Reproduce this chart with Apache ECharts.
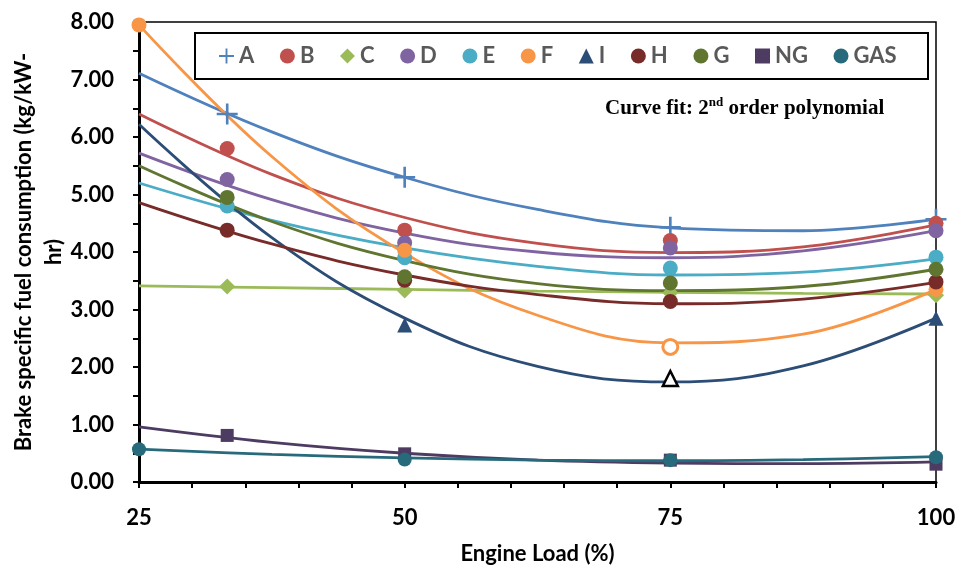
<!DOCTYPE html>
<html>
<head>
<meta charset="utf-8">
<title>Brake specific fuel consumption</title>
<script src="https://cdn.jsdelivr.net/npm/echarts@6/dist/echarts.min.js"></script>
<style>
  html, body { margin: 0; padding: 0; background: #fff; }
  #chart { width: 961px; height: 571px; }
</style>
</head>
<body>
<div id="chart"></div>
<script>
// engine loads where measurements were taken
const markX = [25, 33.3, 50, 75, 100];
// measured points (null = no marker)
const ptsA = [null, 6.40, 5.30, 4.43, 4.57];
const ptsB = [null, 5.80, 4.38, 4.20, 4.50];
const ptsC = [null, 3.40, 3.33, 3.29, 3.25];
const ptsD = [null, 5.26, 4.16, 4.07, 4.37];
const ptsE = [null, 4.80, 3.90, 3.72, 3.91];
const ptsF = [7.95, null, 4.03, 2.35, 3.35];
const ptsI = [null, null, 2.73, 1.80, 2.85];
const ptsH = [null, 4.38, 3.51, 3.14, 3.48];
const ptsG = [null, 4.95, 3.57, 3.46, 3.70];
const ptsNG = [null, 0.81, 0.49, 0.38, 0.31];
const ptsGAS = [0.57, null, 0.39, 0.38, 0.43];

// fitted curves
const fitX = [25, 37.5, 50, 62.5, 75, 87.5, 100];
const fitA = [7.11, 6.09, 5.30, 4.74, 4.42, 4.37, 4.57];
const fitB = [6.40, 5.35, 4.60, 4.15, 3.99, 4.09, 4.47];
const fitC = [3.41, 3.38, 3.35, 3.32, 3.30, 3.28, 3.27];
const fitD = [5.72, 4.91, 4.33, 4.00, 3.90, 4.02, 4.37];
const fitE = [5.20, 4.55, 4.07, 3.75, 3.60, 3.65, 3.88];
const fitF = [7.95, 5.66, 3.98, 2.90, 2.42, 2.57, 3.35];
const fitI = [6.22, 4.25, 2.85, 2.01, 1.74, 2.02, 2.85];
const fitH = [4.86, 4.14, 3.60, 3.26, 3.10, 3.18, 3.47];
const fitG = [5.50, 4.53, 3.85, 3.45, 3.33, 3.40, 3.70];
const fitNG = [0.96, 0.69, 0.50, 0.38, 0.33, 0.32, 0.35];
const fitGAS = [0.57, 0.48, 0.42, 0.38, 0.37, 0.39, 0.44];

const yTicks = ['0.00', '1.00', '2.00', '3.00', '4.00', '5.00', '6.00', '7.00', '8.00'];

const plusPath = 'path://M8.75,0h2.5v8.75h8.75v2.5h-8.75v8.75h-2.5v-8.75h-8.75v-2.5h8.75z';

const groups = [
  { name: 'A', pts: ptsA, fit: fitA, color: '#4F81BD', symbol: plusPath, size: 21 },
  { name: 'B', pts: ptsB, fit: fitB, color: '#C0504D', symbol: 'circle', size: 15 },
  { name: 'C', pts: ptsC, fit: fitC, color: '#9BBB59', symbol: 'diamond', size: 16 },
  { name: 'D', pts: ptsD, fit: fitD, color: '#8064A2', symbol: 'circle', size: 15 },
  { name: 'E', pts: ptsE, fit: fitE, color: '#4BACC6', symbol: 'circle', size: 15 },
  { name: 'F', pts: ptsF, fit: fitF, color: '#F79646', symbol: 'circle', size: 15 },
  { name: 'I', pts: ptsI, fit: fitI, color: '#2C4D75', symbol: 'triangle', size: 15 },
  { name: 'H', pts: ptsH, fit: fitH, color: '#772C2A', symbol: 'circle', size: 15 },
  { name: 'G', pts: ptsG, fit: fitG, color: '#5F7530', symbol: 'circle', size: 15 },
  { name: 'NG', pts: ptsNG, fit: fitNG, color: '#4D3B62', symbol: 'rect', size: 13 },
  { name: 'GAS', pts: ptsGAS, fit: fitGAS, color: '#276A7C', symbol: 'circle', size: 14 }
];

// hollow markers at 75 % load
const hollow = {
  F: { color: '#fff', borderColor: '#F79646', borderWidth: 3 },
  I: { color: '#fff', borderColor: '#000', borderWidth: 2.5 }
};

const series = [];
groups.forEach((g) => {
  const data = [];
  g.pts.forEach((v, i) => {
    if (v == null) return;
    const item = { value: [markX[i], v] };
    if (hollow[g.name] && markX[i] === 75) item.itemStyle = hollow[g.name];
    data.push(item);
  });
  series.push({
    name: g.name,
    type: 'scatter',
    symbol: g.symbol,
    symbolSize: g.size,
    symbolKeepAspect: true,
    itemStyle: { color: g.color, opacity: 1 },
    data: data,
    z: 4,
    silent: true
  });
});
groups.forEach((g) => {
  series.push({
    name: g.name,
    type: 'line',
    smooth: 0.4,
    showSymbol: false,
    symbol: 'none',
    lineStyle: { color: g.color, width: 2.8 },
    itemStyle: { color: g.color },
    data: fitX.map((x, i) => [x, g.fit[i]]),
    z: 3,
    silent: true
  });
});

const chart = echarts.init(document.getElementById('chart'));
chart.setOption({
  animation: false,
  backgroundColor: '#fff',
  textStyle: { fontFamily: 'Lato' },
  grid: {
    left: 139, right: 25, top: 22, bottom: 89,
    outerBoundsMode: 'none',
    containLabel: false,
    show: true, borderColor: '#000', borderWidth: 1.5
  },
  legend: {
    data: groups.map((g) => ({ name: g.name, icon: g.symbol })),
    left: 219, top: 45,
    orient: 'horizontal',
    itemWidth: 15, itemHeight: 15,
    itemGap: 25.6,
    padding: 0,
    textStyle: { fontFamily: 'Lato', fontWeight: 'bold', fontSize: 22, color: '#595959' },
    selectedMode: false
  },
  xAxis: {
    type: 'value',
    min: 25, max: 100, interval: 25,
    name: 'Engine Load (%)',
    nameLocation: 'middle',
    nameGap: 61,
    nameTextStyle: { fontFamily: 'Lato', fontWeight: 'bold', fontSize: 22, color: '#000' },
    axisLine: { show: true, lineStyle: { color: '#000', width: 3 } },
    axisTick: { show: true, length: 6, lineStyle: { color: '#000', width: 2 } },
    minorTick: { show: true, splitNumber: 5, length: 6, lineStyle: { color: '#000', width: 2 } },
    axisLabel: { margin: 25, fontFamily: 'Lato', fontWeight: 'bold', fontSize: 22, color: '#000' },
    splitLine: { show: false }
  },
  yAxis: {
    type: 'value',
    min: 0, max: 8, interval: 1,
    name: 'Brake specific fuel consumption (kg/kW-\nhr)',
    nameLocation: 'middle',
    nameGap: 70,
    nameMoveOverlap: false,
    nameTextStyle: { fontFamily: 'Lato', fontWeight: 'bold', fontSize: 22, color: '#000', lineHeight: 30 },
    axisLine: { show: true, lineStyle: { color: '#000', width: 3 } },
    axisTick: { show: true, length: 6, lineStyle: { color: '#000', width: 2 } },
    minorTick: { show: true, splitNumber: 2, length: 6, lineStyle: { color: '#000', width: 2 } },
    axisLabel: {
      margin: 25, fontFamily: 'Lato', fontWeight: 'bold', fontSize: 22, color: '#000',
      formatter: (v) => yTicks[Math.round(v)]
    },
    splitLine: { show: false }
  },
  graphic: [
    {
      type: 'rect',
      shape: { x: 195, y: 33, width: 733, height: 46 },
      style: { fill: 'none', stroke: '#000', lineWidth: 2 },
      z: 10
    },
    {
      type: 'text',
      left: 605, top: 96,
      style: {
        text: '{a|Curve fit: 2}{s|nd}{a| order polynomial}',
        rich: {
          a: { fontFamily: 'Liberation Serif', fontWeight: 'bold', fontSize: 21, fill: '#000', verticalAlign: 'bottom', lineHeight: 23 },
          s: { fontFamily: 'Liberation Serif', fontWeight: 'bold', fontSize: 13, fill: '#000', verticalAlign: 'top', lineHeight: 23 }
        }
      }
    }
  ],
  series: series
});
</script>
</body>
</html>
